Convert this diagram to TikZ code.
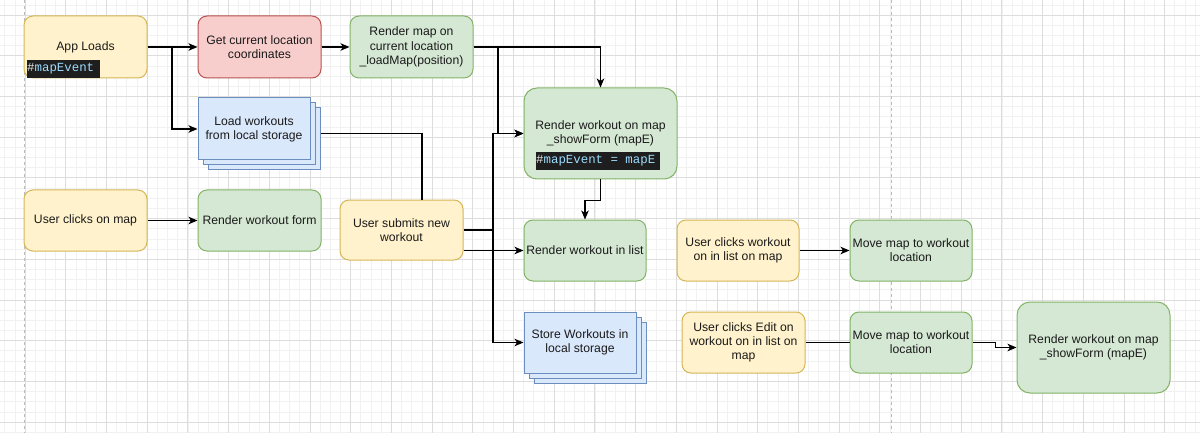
\documentclass[tikz,border=0pt]{standalone}
\usepackage{fontspec}
\setmainfont{Liberation Sans}
\newfontfamily\codefont{Liberation Mono}
\usetikzlibrary{arrows.meta,calc}
\definecolor{yfill}{HTML}{FFF2CC}\definecolor{ydraw}{HTML}{D6B656}
\definecolor{rfill}{HTML}{F8CECC}\definecolor{rdraw}{HTML}{B85450}
\definecolor{gfill}{HTML}{D5E8D4}\definecolor{gdraw}{HTML}{82B366}
\definecolor{bfill}{HTML}{DAE8FC}\definecolor{bdraw}{HTML}{6C8EBF}
\definecolor{codebg}{HTML}{1E1E1E}\definecolor{codefg}{HTML}{9CDCFE}
\definecolor{txt}{HTML}{1A1A1A}
\definecolor{gridminor}{HTML}{F1F1F1}\definecolor{gridmajor}{HTML}{DDDDDD}
\definecolor{pagebrk}{HTML}{BBBBBB}
\begin{document}
\begin{tikzpicture}[x=1pt,y=-1pt,
  box/.style={draw, line width=1pt, rounded corners=9pt, align=center, inner sep=0pt,
    text=txt, font=\fontsize{12.2}{14.2}\selectfont, minimum width=123pt, minimum height=62pt},
  bigbox/.style={box, rounded corners=13pt, minimum width=153pt, minimum height=91pt},
  ybox/.style={fill=yfill, draw=ydraw},
  rbox/.style={fill=rfill, draw=rdraw},
  gbox/.style={fill=gfill, draw=gdraw},
  stackbox/.style={box, rounded corners=0pt, fill=bfill, draw=bdraw, minimum width=112pt, minimum height=62pt},
  codebox/.style={fill=codebg, text=codefg, inner sep=0pt, minimum height=18pt,
    font=\codefont\fontsize{12.4}{14}\selectfont, anchor=west},
  conn/.style={line width=1.2pt, draw=black},
  arr/.style={conn, -{Stealth[length=9pt,width=7.5pt,inset=2.5pt]}},
]
\useasboundingbox (0,0) rectangle (1200,433);
\fill[white] (0,0) rectangle (1200,433);
% grid
\foreach \i in {0,...,117} \draw[gridminor, line width=0.6pt] ({4.65+10.175*\i},0) -- ++(0,433);
\foreach \i in {0,...,42} \draw[gridminor, line width=0.6pt] (0,{4.825+10.175*\i}) -- ++(1200,0);
\foreach \i in {0,...,28} \draw[gridmajor, line width=0.8pt] ({25+40.7*\i},0) -- ++(0,433);
\foreach \i in {0,...,10} \draw[gridmajor, line width=0.8pt] (0,{15+40.7*\i}) -- ++(1200,0);
\draw[pagebrk, line width=1pt, dash pattern=on 3pt off 3pt] (24.5,0) -- (24.5,433);
\draw[pagebrk, line width=1pt, dash pattern=on 3pt off 3pt] (891,0) -- (891,433);

% nodes
\node[box, ybox] (al) at (85.5,47) {App Loads};
\node[codebox] (c1) at (27,69) {\makebox[73pt][l]{\textcolor{white!80!gray}{\#}mapEvent}};
\node[box, rbox] (gc) at (259.5,47) {Get current location\\coordinates};
\node[box, gbox] (rm) at (411.5,47) {Render map on\\current location\\\_loadMap(position)};

\node[stackbox] (lw3) at (264,139) {};
\node[stackbox] (lw2) at (259,134) {};
\node[stackbox] (lw) at (254,129) {Load workouts\\from local storage};

\node[bigbox, gbox] (rw) at (600.5,133.5) {Render workout on map\\\_showForm (mapE)};
\node[codebox] (c2) at (536,161) {\makebox[124pt][l]{\textcolor{white!80!gray}{\#}mapEvent = mapE}};

\node[box, ybox, minimum height=61pt] (uc) at (85.5,220.5) {User clicks on map};
\node[box, gbox, minimum height=61pt] (rf) at (259.5,220.5) {Render workout form};
\node[box, ybox, minimum height=60pt] (us) at (401.5,230) {User submits new\\workout};

\node[box, gbox, minimum width=122pt, minimum height=61pt] (rl) at (585,250.5) {Render workout in list};
\node[box, ybox, minimum width=122pt, minimum height=61pt] (ucw) at (738,250.5) {User clicks workout\\on in list on map};
\node[box, gbox, minimum width=122pt, minimum height=61pt] (mm1) at (911,250.5) {Move map to workout\\location};

\node[stackbox, minimum height=61pt] (sw3) at (590,352.5) {};
\node[stackbox, minimum height=61pt] (sw2) at (585,347.5) {};
\node[stackbox, minimum height=61pt] (sw) at (580,342.5) {Store Workouts in\\local storage};

\node[box, ybox, minimum height=61pt] (ue) at (743.5,342.5) {User clicks Edit on\\workout on in list on\\map};
\node[box, gbox, minimum width=122pt, minimum height=61pt] (mm2) at (911,342.5) {Move map to workout\\location};
\node[bigbox, gbox] (rw2) at (1093.5,347.5) {Render workout on map\\\_showForm (mapE)};

% connectors
\coordinate (b1) at (172,47);
\coordinate (b2) at (498,47);
\coordinate (j1) at (422,133.5);
\coordinate (b3) at (493,230);

\draw[arr] (al.east) -- (gc.west);
\draw[arr] (b1) |- (lw.west);
\draw[arr] (gc.east) -- (rm.west);
\draw[arr] (rm.east) -| (rw.north);
\draw[arr] (b2) |- (rw.west);
\draw[conn] (lw3.east |- j1) -- (j1) -- (j1 |- us.north);
\draw[conn] (us.east |- b3) -- (b3);
\draw[arr] (b3) |- (rw.west);
\draw[arr] (b3) |- (sw.west);
\draw[arr] (us.east |- rl.west) -- (rl.west);
\draw[arr] (rw.south) -- ++(0,21) -| (rl.north);
\draw[arr] (uc.east) -- (rf.west);
\draw[arr] (ucw.east) -- (mm1.west);
\draw[conn] (ue.east) -- (mm2.west);
\draw[arr] (mm2.east) -- ++(23,0) |- (rw2.west);
\end{tikzpicture}
\end{document}
